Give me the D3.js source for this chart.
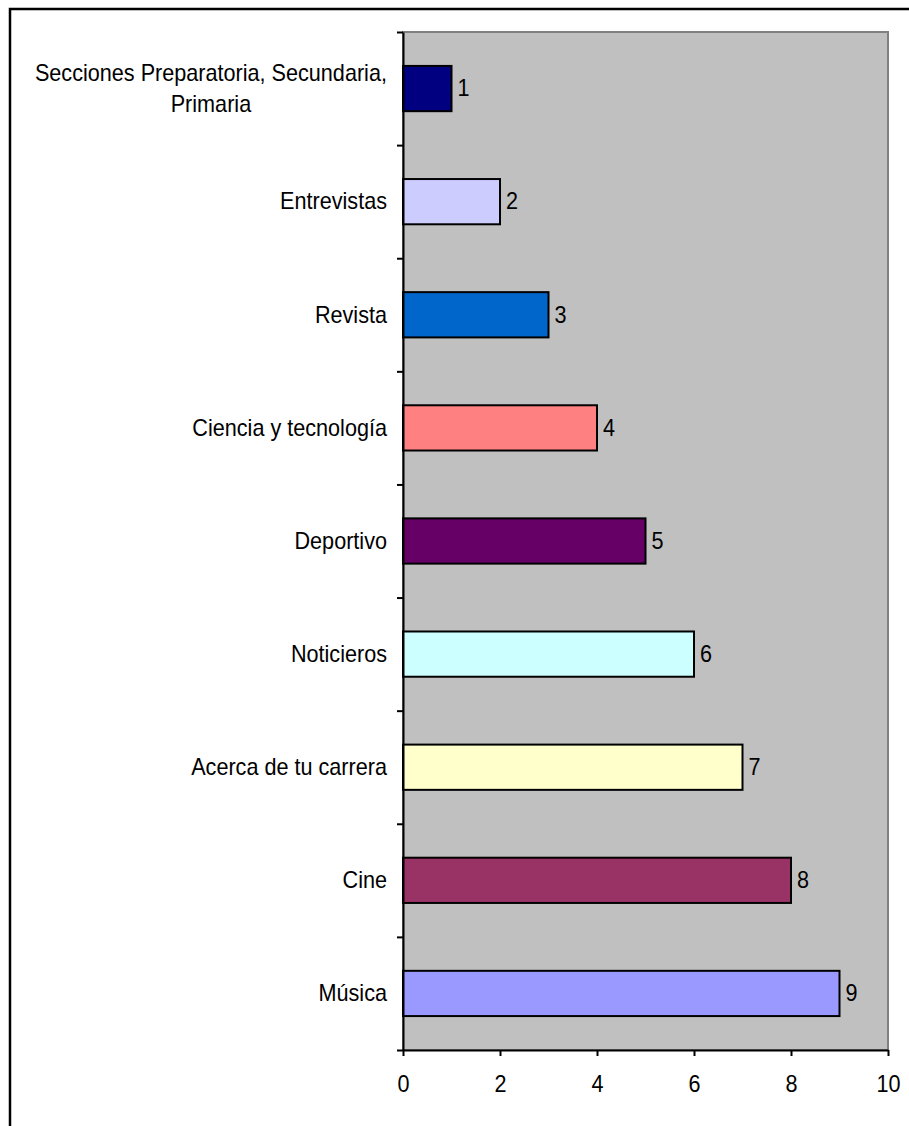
<!DOCTYPE html>
<html>
<head>
<meta charset="utf-8">
<script src="https://cdn.jsdelivr.net/npm/d3@7"></script>
<style>
    body { margin: 0; background: #fff; }
    text { font-family: "Liberation Sans", Arial, sans-serif; fill: #000; }
    .axis path, .axis line { stroke: #000; stroke-width: 2; }
    .axis text { font-size: 23px; }
</style>
</head>
<body>
<div id="chart"></div>
<script>
const categories = [
    ["Secciones Preparatoria, Secundaria,", "Primaria"],
    ["Entrevistas"],
    ["Revista"],
    ["Ciencia y tecnología"],
    ["Deportivo"],
    ["Noticieros"],
    ["Acerca de tu carrera"],
    ["Cine"],
    ["Música"]
];
const values = [1, 2, 3, 4, 5, 6, 7, 8, 9];
const colors = ["#000080", "#CCCCFF", "#0066CC", "#FF8080", "#660066", "#CCFFFF", "#FFFFCC", "#993366", "#9999FF"];
const xTicks = [0, 2, 4, 6, 8, 10];

const W = 909, H = 1126;
const plot = {l: 403, r: 888, t: 32, b: 1050};
const squeeze = 0.94;   // reference font is a touch narrower than Liberation Sans

const svg = d3.select("#chart").append("svg")
    .attr("width", W)
    .attr("height", H);

// chart frame (runs off the page on the right and bottom)
svg.append("rect")
    .attr("x", 10).attr("y", 9)
    .attr("width", W + 20).attr("height", H + 20)
    .attr("fill", "#fff")
    .attr("stroke", "#000")
    .attr("stroke-width", 2.5);

const scale_x = d3.scaleLinear().domain([0, 10]).range([plot.l, plot.r]);
const scale_y = d3.scaleBand()
    .domain(d3.range(categories.length))
    .range([plot.t, plot.b])
    .paddingInner(0.6)
    .paddingOuter(0.3);
const scale_edge = d3.scaleLinear().domain([0, categories.length]).range([plot.t, plot.b]);

// plot area
svg.append("rect")
    .attr("x", plot.l).attr("y", plot.t)
    .attr("width", plot.r - plot.l).attr("height", plot.b - plot.t)
    .attr("fill", "#C0C0C0")
    .attr("stroke", "#808080")
    .attr("stroke-width", 2);

// bars
svg.selectAll(".bar")
    .data(values)
    .join("rect")
    .attr("class", "bar")
    .attr("x", scale_x(0))
    .attr("y", (d, i) => scale_y(i))
    .attr("width", d => scale_x(d) - scale_x(0))
    .attr("height", scale_y.bandwidth())
    .attr("fill", (d, i) => colors[i])
    .attr("stroke", "#000")
    .attr("stroke-width", 2);

// value labels
svg.selectAll(".val")
    .data(values)
    .join("text")
    .attr("class", "val")
    .attr("font-size", 23)
    .attr("dy", "0.34em")
    .attr("transform", (d, i) =>
        `translate(${scale_x(d) + 6}, ${scale_y(i) + scale_y.bandwidth() / 2}) scale(${squeeze}, 1)`)
    .text(d => d);

// axes
svg.append("g")
    .attr("class", "axis axis-x")
    .attr("transform", `translate(0, ${plot.b})`)
    .call(d3.axisBottom(scale_x).tickValues(xTicks).tickSize(6).tickPadding(20).tickSizeOuter(0));

svg.select(".axis-x").selectAll(".tick text")
    .attr("transform", `scale(${squeeze}, 1)`);

svg.append("g")
    .attr("class", "axis axis-y")
    .attr("transform", `translate(${plot.l}, 0)`)
    .call(d3.axisLeft(scale_edge).ticks(categories.length).tickSize(6).tickSizeOuter(0).tickFormat(""));

// category labels, multi-line blocks centred, right edge near the axis
const lineH = 31.5;
svg.selectAll(".cat")
    .data(categories)
    .join("text")
    .attr("class", "cat")
    .attr("font-size", 23)
    .attr("text-anchor", "middle")
    .each(function(d, i) {
        const cy = scale_y(i) + scale_y.bandwidth() / 2;
        const t = d3.select(this);
        const probe = t.append("tspan").text(d.reduce((a, b) => a.length > b.length ? a : b));
        const w = this.getComputedTextLength() * squeeze;
        probe.remove();
        t.attr("transform", `translate(${387 - w / 2}, ${cy}) scale(${squeeze}, 1)`);
        d.forEach((line, k) => {
            t.append("tspan")
                .attr("x", 0)
                .attr("y", (k - (d.length - 1) / 2) * lineH)
                .attr("dy", "0.34em")
                .text(line);
        });
    });
</script>
</body>
</html>
